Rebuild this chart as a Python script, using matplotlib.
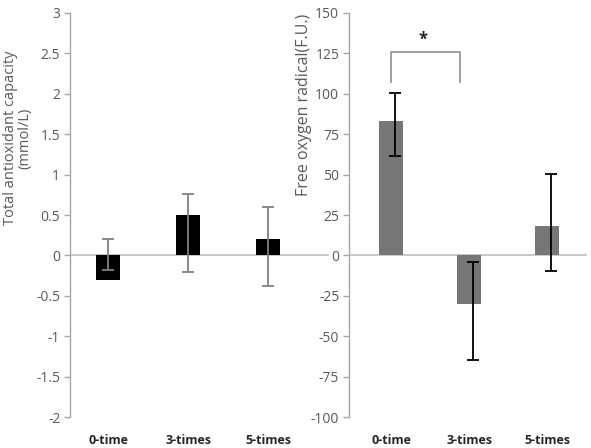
import matplotlib
matplotlib.use("Agg")
import matplotlib.pyplot as plt
import numpy as np

categories = ["0-time", "3-times", "5-times"]

# Left: Total antioxidant capacity
tac_values = [-0.30, 0.50, 0.20]
tac_err_low = [-0.18, -0.20, -0.38]
tac_err_high = [0.20, 0.76, 0.60]
tac_ticks = [3, 2.5, 2, 1.5, 1, 0.5, 0, -0.5, -1, -1.5, -2]
tac_ticklabels = ["3", "2.5", "2", "1.5", "1", "0.5", "0", "-0.5", "-1", "-1.5", "-2"]

# Right: Free oxygen radical
for_values = [83.3, -30.0, 18.4]
for_err_low = [61.4, -64.7, -9.5]
for_err_high = [100.7, -4.1, 50.2]
for_ticks = [150, 125, 100, 75, 50, 25, 0, -25, -50, -75, -100]

W, H = 591, 448
fig = plt.figure(figsize=(W / 100, H / 100), dpi=100)
plt.rcParams['font.family'] = ['Open Sans', 'DejaVu Sans']

axis_col = "#a6a6a6"
text_col = "#595959"

def setup(ax, ymin, ymax, ticks, labels):
    ax.set_ylim(ymin, ymax)
    for s in ["top", "right", "bottom"]:
        ax.spines[s].set_visible(False)
    ax.spines["left"].set_color(axis_col)
    ax.spines["left"].set_linewidth(1.0)
    ax.set_yticks(ticks)
    ax.set_yticklabels(labels)
    ax.tick_params(axis="y", direction="out", length=4, width=1, color=axis_col,
                   labelsize=10, labelcolor=text_col, pad=3)
    ax.tick_params(axis="x", length=0, pad=12, labelsize=9)
    ax.patch.set_alpha(0)

x = np.arange(len(categories))

# Left axes
ax1 = fig.add_axes([70 / W, 31 / H, (329 - 70) / W, 404 / H])
setup(ax1, -2, 3, tac_ticks, tac_ticklabels)
ax1.set_xlim(-0.475, 2.76)
ax1.axhline(0, color="#bfbfbf", lw=1.2, zorder=1)
ax1.bar(x, tac_values, width=0.30, color="black", zorder=2)
lo = np.array(tac_err_low); hi = np.array(tac_err_high)
ax1.errorbar(x, (lo + hi) / 2, yerr=(hi - lo) / 2, fmt="none", ecolor="#808080",
             elinewidth=1.3, capsize=4.5, capthick=1.3, zorder=3)
ax1.set_xticks(x)
ax1.set_xticklabels(categories, fontweight="bold", color="#262626")
ax1.set_ylabel("Total antioxidant capacity\n(mmol/L)", fontsize=10.5, color=text_col,
               linespacing=0.95)
ax1.yaxis.set_label_coords(-0.145, 0.69)

# Right axes
ax2 = fig.add_axes([349 / W, 31 / H, (587 - 349) / W, 404 / H])
setup(ax2, -100, 150, for_ticks, [str(t) for t in for_ticks])
ax2.set_xlim(-0.54, 2.51)
ax2.axhline(0, color="#bfbfbf", lw=1.2, zorder=1)
ax2.bar(x, for_values, width=0.31, color="#767676", zorder=2)
lo = np.array(for_err_low); hi = np.array(for_err_high)
ax2.errorbar(x + 0.05, (lo + hi) / 2, yerr=(hi - lo) / 2, fmt="none", ecolor="black",
             elinewidth=1.3, capsize=4.5, capthick=1.3, zorder=3)
ax2.set_xticks(x)
ax2.set_xticklabels(categories, fontweight="bold", color="#262626")
ax2.set_ylabel("Free oxygen radical(F.U.)", fontsize=11.5, color=text_col)
ax2.yaxis.set_label_coords(-0.155, 0.772)

# significance bracket
ax2.plot([0.0, 0.0, 0.88, 0.88], [107, 126, 126, 107], color="#999999", lw=1.3,
         clip_on=False, zorder=3)
ax2.text(0.41, 128, "*", ha="center", va="bottom", fontsize=12, fontweight="bold",
         color="#262626")

fig.savefig("out.png", dpi=100)
